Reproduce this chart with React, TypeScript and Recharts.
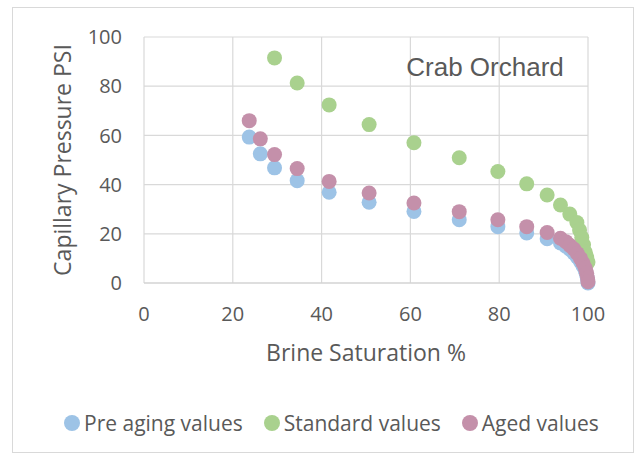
import { ScatterChart, Scatter, XAxis, YAxis, CartesianGrid, Label } from 'recharts';

// brine saturation (%) vs capillary pressure (psi)
const preAgingSw = [23.7, 26.2, 29.4, 34.5, 41.7, 50.7, 60.8, 71, 79.7, 86.2, 90.8, 93.8, 95, 95.9, 96.8, 97.6, 98.3, 98.9, 99.4, 99.7, 99.9, 100];
const preAgingPc = [59.3, 52.5, 46.8, 41.6, 36.9, 32.8, 29.1, 25.7, 22.9, 20.3, 18, 16.3, 15, 13.7, 12.2, 10.5, 8.7, 6.8, 5, 3.2, 1.5, 0];

const standardSw = [29.4, 34.5, 41.7, 50.7, 60.8, 71, 79.7, 86.2, 90.8, 93.8, 95.9, 97.5, 98.1, 98.6, 99, 99.4, 99.7, 100];
const standardPc = [91.5, 81.3, 72.4, 64.4, 57, 50.9, 45.3, 40.3, 35.8, 31.7, 28, 24.6, 21.5, 18.5, 15.5, 12.5, 10.5, 8.5];

const agedSw = [23.7, 26.2, 29.4, 34.5, 41.7, 50.7, 60.8, 71, 79.7, 86.2, 90.8, 93.8, 95, 95.9, 96.8, 97.6, 98.3, 98.9, 99.4, 99.7, 99.9, 100];
const agedPc = [66, 58.6, 52.2, 46.5, 41.3, 36.6, 32.5, 29, 25.7, 22.9, 20.5, 18.2, 16.8, 15.3, 13.8, 12, 10, 8, 6, 4, 2, 0.5];

const axisTicks = [0, 20, 40, 60, 80, 100];

const seriesNames = ['Pre aging values', 'Standard values', 'Aged values'];
const seriesColors = ['#9DC3E6', '#A9D18E', '#C490AA'];

const toPoints = (xs: number[], ys: number[]) => xs.map((x, i) => ({ x, y: ys[i] }));

const seriesData = [
    toPoints(preAgingSw, preAgingPc),
    toPoints(standardSw, standardPc),
    toPoints(agedSw, agedPc),
];

const Dot = (color: string) => (props: any) => (
    <circle cx={props.cx} cy={props.cy} r={7.5} fill={color} />
);

const FONT = '"Open Sans"';

export default function App() {
    const tickStyle = { fontSize: 20, fill: '#595959', fontFamily: FONT };
    const titleStyle = { fontSize: 23, fill: '#595959', fontFamily: FONT };

    return (
        <div style={{ position: 'absolute', left: 0, top: 0, width: 639, height: 455, background: '#fff', fontFamily: FONT }}>
            <div style={{ position: 'absolute', left: 12, top: 7, width: 622, height: 446, border: '1px solid #d9d9d9', boxSizing: 'border-box' }} />
            <ScatterChart width={639} height={455} margin={{ top: 37, right: 51, bottom: 90, left: 0 }} style={{ position: 'absolute', left: 0, top: 0 }}>
                <CartesianGrid stroke="#d9d9d9" strokeWidth={1.2} />
                <XAxis
                    type="number"
                    dataKey="x"
                    domain={[0, 100]}
                    ticks={axisTicks}
                    tick={tickStyle}
                    tickLine={false}
                    tickSize={0}
                    tickMargin={24}
                    axisLine={{ stroke: '#d0d0d0' }}
                    height={82}
                >
                    <Label value="Brine Saturation %" position="insideBottom" offset={4} style={titleStyle} />
                </XAxis>
                <YAxis
                    type="number"
                    dataKey="y"
                    domain={[0, 100]}
                    ticks={axisTicks}
                    tick={tickStyle}
                    tickLine={false}
                    tickSize={0}
                    tickMargin={22}
                    axisLine={false}
                    width={144}
                >
                    <Label value="Capillary Pressure PSI" angle={-90} position="center" dx={-9} style={titleStyle} />
                </YAxis>
                {seriesData.map((data, i) => (
                    <Scatter key={seriesNames[i]} name={seriesNames[i]} data={data} fill={seriesColors[i]} shape={Dot(seriesColors[i])} isAnimationActive={false} />
                ))}
                <text x={485} y={67} textAnchor="middle" dominantBaseline="central" fontSize={26} fill="#595959" fontFamily="Liberation Sans">
                    Crab Orchard
                </text>
            </ScatterChart>
            <div style={{ position: 'absolute', left: 64, top: 408, height: 30, display: 'flex', alignItems: 'center', fontSize: 21, color: '#595959', whiteSpace: 'nowrap' }}>
                {seriesNames.map((name, i) => (
                    <div key={name} style={{ display: 'flex', alignItems: 'center', marginRight: 21 }}>
                        <span style={{ display: 'inline-block', width: 16, height: 16, borderRadius: '50%', background: seriesColors[i], marginRight: 4 }} />
                        <span>{name}</span>
                    </div>
                ))}
            </div>
        </div>
    );
}
